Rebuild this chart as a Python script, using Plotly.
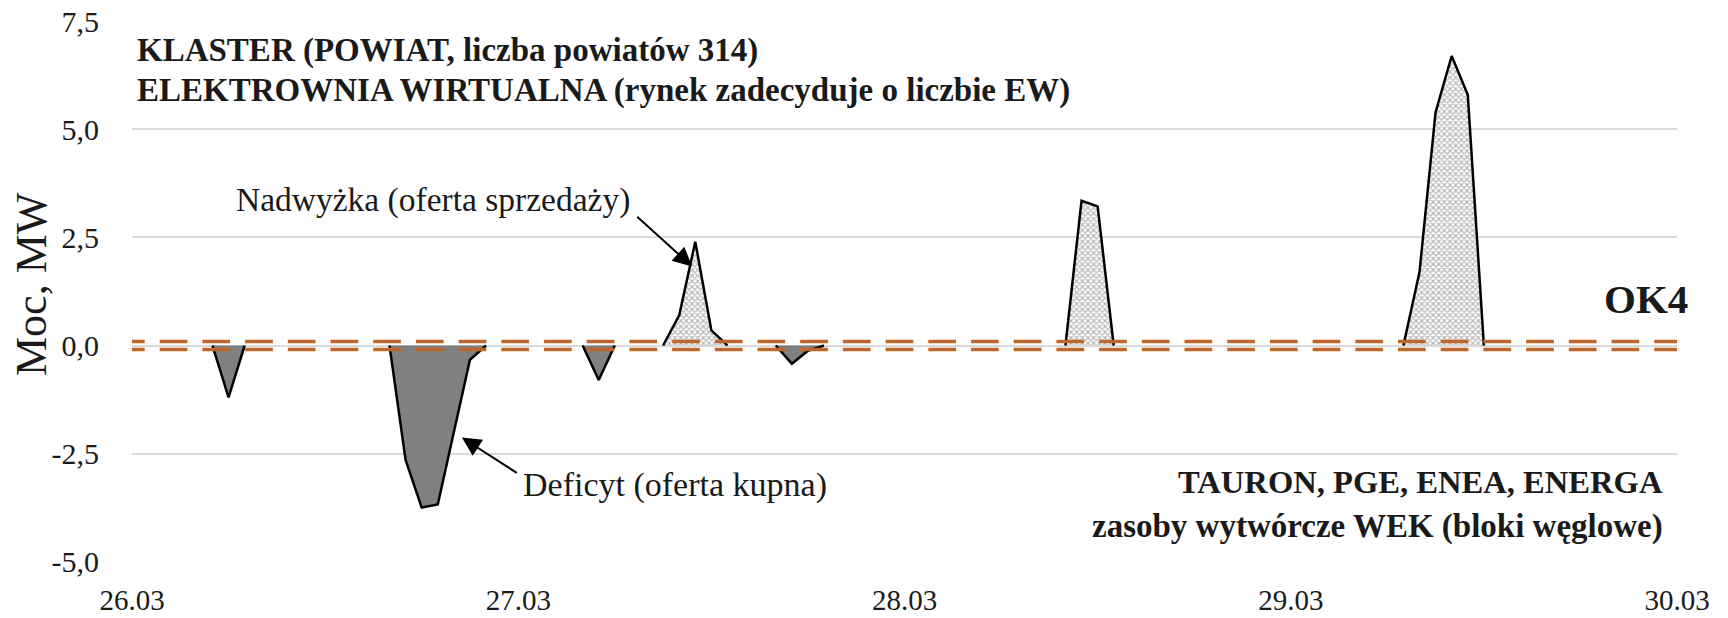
import plotly.graph_objects as go

# ---------------- data ----------------
day_labels = ["26.03", "27.03", "28.03", "29.03", "30.03"]
day_hours = [0, 24, 48, 72, 96]
y_tick_values = [-5.0, -2.5, 0.0, 2.5, 5.0, 7.5]
y_tick_labels = ["-5,0", "-2,5", "0,0", "2,5", "5,0", "7,5"]

# hours counted from 26.03 00:00; None separates episodes
deficit_hours = [5, 6, 7, None, 16, 17, 18, 19, 20, 21, 22, None, 28, 29, 30, None, 40, 41, 42, 43]
deficit_mw = [0, -1.2, 0, None, 0, -2.65, -3.75, -3.68, -2.0, -0.33, 0, None, 0, -0.8, 0, None, 0, -0.42, -0.12, 0]

surplus_hours = [33, 34, 35, 36, 37, None, 58, 59, 60, 61, None, 79, 80, 81, 82, 83, 84]
surplus_mw = [0, 0.7, 2.4, 0.35, 0, None, 0, 3.35, 3.22, 0, None, 0, 1.7, 5.4, 6.7, 5.8, 0]

ok4_levels = [0.09, -0.09]
ok4_hours = [-0.93, 96]

FONT = "Liberation Serif"
TXT = "#1a1a1a"

# plot area in pixels
L, R, T, B = 132, 1677, 21, 562
W, H = 1728, 618


def px_to_paper(px, py):
    return (px - L) / (R - L), (B - py) / (B - T)


def split_segments(xs, ys):
    segs, cx, cy = [], [], []
    for x, y in zip(xs, ys):
        if x is None:
            segs.append((cx, cy))
            cx, cy = [], []
        else:
            cx.append(x)
            cy.append(y)
    segs.append((cx, cy))
    return segs


fig = go.Figure()

for sx, sy in split_segments(deficit_hours, deficit_mw):
    fig.add_trace(go.Scatter(x=sx, y=sy, mode="lines", fill="toself",
                             fillcolor="#808080",
                             line=dict(color="black", width=2.5),
                             hoverinfo="skip", showlegend=False))

for sx, sy in split_segments(surplus_hours, surplus_mw):
    fig.add_trace(go.Scatter(x=sx, y=sy, mode="lines", fill="toself",
                             fillcolor="white",
                             fillpattern=dict(shape="x", size=4, solidity=0.5,
                                              fgcolor="#6e6e6e", bgcolor="white"),
                             line=dict(color="black", width=2.5),
                             hoverinfo="skip", showlegend=False))

for lvl in ok4_levels:
    fig.add_trace(go.Scatter(x=ok4_hours, y=[lvl, lvl], mode="lines",
                             line=dict(color="#C0662A", width=3.5, dash="27.7px,15px"),
                             hoverinfo="skip", showlegend=False))

texts = [
    # (text, px, py, xanchor, size, angle)
    ("<b>KLASTER (POWIAT, liczba powiatów 314)</b>", 135, 50, "left", 33, 0),
    ("<b>ELEKTROWNIA WIRTUALNA (rynek zadecyduje o liczbie EW)</b>", 135, 91, "left", 33, 0),
    ("Nadwyżka (oferta sprzedaży)", 433, 200, "center", 33.5, 0),
    ("Deficyt (oferta kupna)", 675, 485, "center", 34, 0),
    ("<b>TAURON, PGE, ENEA, ENERGA</b>", 1665, 482, "right", 32.6, 0),
    ("<b>zasoby wytwórcze WEK (bloki węglowe)</b>", 1665, 526, "right", 33, 0),
    ("<b>OK4</b>", 1646, 299, "center", 41, 0),
    ("Moc, MW", 31, 284, "center", 44, -90),
]
annotations = []
for txt, px, py, xa, sz, ang in texts:
    xp, yp = px_to_paper(px, py)
    annotations.append(dict(x=xp, y=yp, xref="paper", yref="paper", text=txt,
                            xanchor=xa, yanchor="middle", textangle=ang,
                            showarrow=False,
                            font=dict(family=FONT, size=sz, color=TXT)))

arrows = [
    dict(x=34.8, y=1.83, ax=31.3, ay=3.01),
    dict(x=20.5, y=-2.13, ax=24.0, ay=-2.97),
]
for a in arrows:
    a.update(xref="x", yref="y", axref="x", ayref="y", text="", showarrow=True,
             arrowhead=2, arrowsize=1.9, arrowwidth=2, arrowcolor="black")

fig.update_layout(
    width=W, height=H,
    margin=dict(l=L, r=W - R, t=T, b=H - B, autoexpand=False),
    paper_bgcolor="white", plot_bgcolor="white",
    font=dict(family=FONT, color=TXT),
    annotations=annotations + arrows,
    xaxis=dict(range=[0, 96], tickvals=day_hours, ticktext=day_labels,
               showgrid=False, zeroline=False, showline=False, automargin=False,
               ticks="outside", ticklen=12, tickcolor="rgba(0,0,0,0)",
               tickfont=dict(family=FONT, size=29, color=TXT)),
    yaxis=dict(range=[-5.01, 7.51], tickvals=y_tick_values, ticktext=y_tick_labels,
               showgrid=True, gridcolor="#d9d9d9", gridwidth=2,
               zeroline=False, showline=False, automargin=False,
               ticks="outside", ticklen=26, tickcolor="rgba(0,0,0,0)",
               tickfont=dict(family=FONT, size=30, color=TXT)),
)

fig.write_html("out.html",
               config={"displayModeBar": False},
               post_script="document.body.style.margin='0';"
                           "document.documentElement.style.overflow='hidden';")
